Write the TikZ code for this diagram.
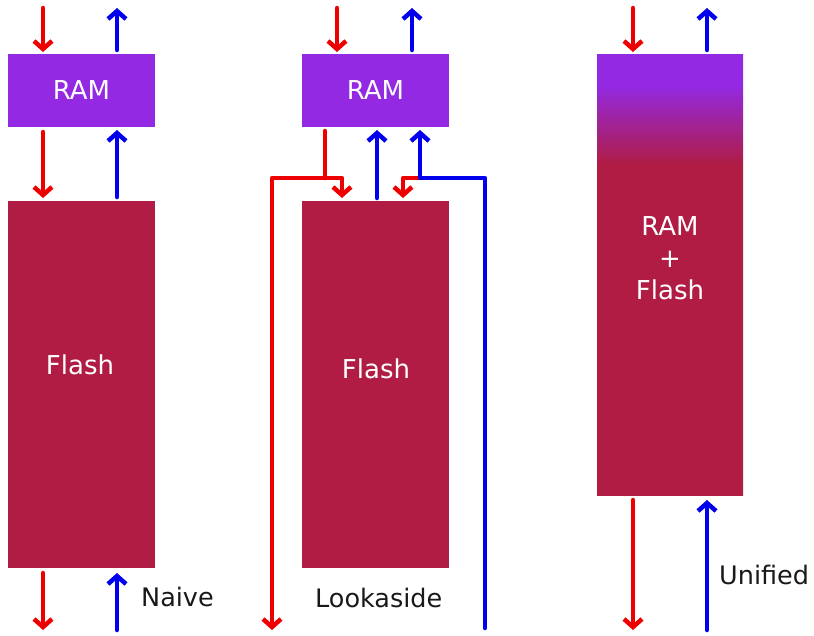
\documentclass[tikz,border=0pt]{standalone}
\usepackage{fontspec}
\setmainfont{DejaVu Sans}
\usetikzlibrary{arrows.meta}
\definecolor{rampurple}{RGB}{147,41,227}
\definecolor{flashred}{RGB}{176,28,68}
\definecolor{arrred}{RGB}{238,0,0}
\definecolor{arrblue}{RGB}{0,0,238}
\pgfdeclareverticalshading{ramflashsh}{100bp}{color(0bp)=(flashred); color(25bp)=(flashred); color(62.4bp)=(flashred); color(71.5bp)=(rampurple); color(75bp)=(rampurple); color(100bp)=(rampurple)}
\begin{document}
\begin{tikzpicture}[x=1pt,y=-1pt,
  box/.style={anchor=north west, inner sep=0pt, outer sep=0pt, text=white, font=\fontsize{26}{32}\selectfont},
  ramb/.style={box, fill=rampurple, minimum width=147pt, minimum height=73pt},
  flashb/.style={box, fill=flashred, minimum width=147pt, minimum height=367pt},
  boxtxt/.style={inner sep=0pt, text=white, font=\fontsize{26}{32}\selectfont, align=center},
  lbl/.style={inner sep=0pt, anchor=west, text=black!90, font=\fontsize{25.5}{28}\selectfont},
  flow/.style={line width=4.5pt, line cap=round, line join=round, -{Straight Barb[length=8pt,width=18pt]}},
  flowline/.style={line width=4.5pt, line cap=round, line join=round},
  redf/.style={flow, draw=arrred},
  bluef/.style={flow, draw=arrblue},
  redl/.style={flowline, draw=arrred},
  bluel/.style={flowline, draw=arrblue}]
\useasboundingbox (0,0) rectangle (814,635);

% ---- Naive ----
\node[ramb] (ram1) at (8,54) {RAM};
\node[flashb] (flash1) at (8,201) {};
\node[boxtxt] (flash1t) at (80,365) {Flash};
\coordinate (n1r) at (43,8);
\coordinate (n1b) at (117,8);
\coordinate (n1rb) at (43,630);
\coordinate (n1bb) at (117,630);
\draw[redf] (n1r) -- ([yshift=2pt]n1r |- ram1.north);
\draw[bluef] ([yshift=4pt]n1b |- ram1.north) -- (n1b);
\draw[redf] ([yshift=-5pt]n1r |- ram1.south) -- ([yshift=3pt]n1r |- flash1.north);
\draw[bluef] ([yshift=4pt]n1b |- flash1.north) -- ([yshift=-3pt]n1b |- ram1.south);
\draw[redf] ([yshift=-5pt]n1r |- flash1.south) -- (n1rb);
\draw[bluef] (n1bb) -- ([yshift=-5pt]n1b |- flash1.south);
\node[lbl] (naive) at (141,597) {Naive};

% ---- Lookaside ----
\node[ramb] (ram2) at (302,54) {RAM};
\node[flashb] (flash2) at (302,201) {};
\node[boxtxt] (flash2t) at (376,369) {Flash};
\coordinate (l2r) at (337,8);
\coordinate (l2b) at (412,8);
\draw[redf] (l2r) -- ([yshift=2pt]l2r |- ram2.north);
\draw[bluef] ([yshift=4pt]l2b |- ram2.north) -- (l2b);
\coordinate (jr) at (325,178);
\coordinate (jrl) at (272,178);
\coordinate (jrr) at (342,178);
\coordinate (jrb) at (272,630);
\coordinate (jb) at (420,178);
\coordinate (jbr) at (485,178);
\coordinate (jbb) at (485,628);
\coordinate (jsr) at (403,178);
\coordinate (bm) at (377,0);
\draw[redl] ([yshift=-4pt]jr |- ram2.south) -- (jr);
\draw[redf] (jr) -- (jrr) -- ([yshift=3pt]jrr |- flash2.north);
\draw[redf] (jr) -- (jrl) -- (jrb);
\draw[bluef] ([yshift=3pt]bm |- flash2.north) -- ([yshift=-3pt]bm |- ram2.south);
\draw[redf] (jb) -- (jsr) -- ([yshift=3pt]jsr |- flash2.north);
\draw[bluef] (jbb) -- (jbr) -- (jb) -- ([yshift=-3pt]jb |- ram2.south);
\node[lbl] (look) at (315,598) {Lookaside};

% ---- Unified ----
\node[box, shading=ramflashsh, minimum width=146pt, minimum height=441pt] (uni) at (597,54) {};
\node[boxtxt] (unit) at (670,258) {RAM\\+\\Flash};
\coordinate (u3r) at (633,8);
\coordinate (u3b) at (707,8);
\coordinate (u3rb) at (633,630);
\coordinate (u3bb) at (707,630);
\draw[redf] (u3r) -- ([yshift=2pt]u3r |- uni.north);
\draw[bluef] ([yshift=4pt]u3b |- uni.north) -- (u3b);
\draw[redf] ([yshift=-5pt]u3r |- uni.south) -- (u3rb);
\draw[bluef] (u3bb) -- ([yshift=-5pt]u3b |- uni.south);
\node[lbl] (unified) at (719,575) {Unified};
\end{tikzpicture}
\end{document}
